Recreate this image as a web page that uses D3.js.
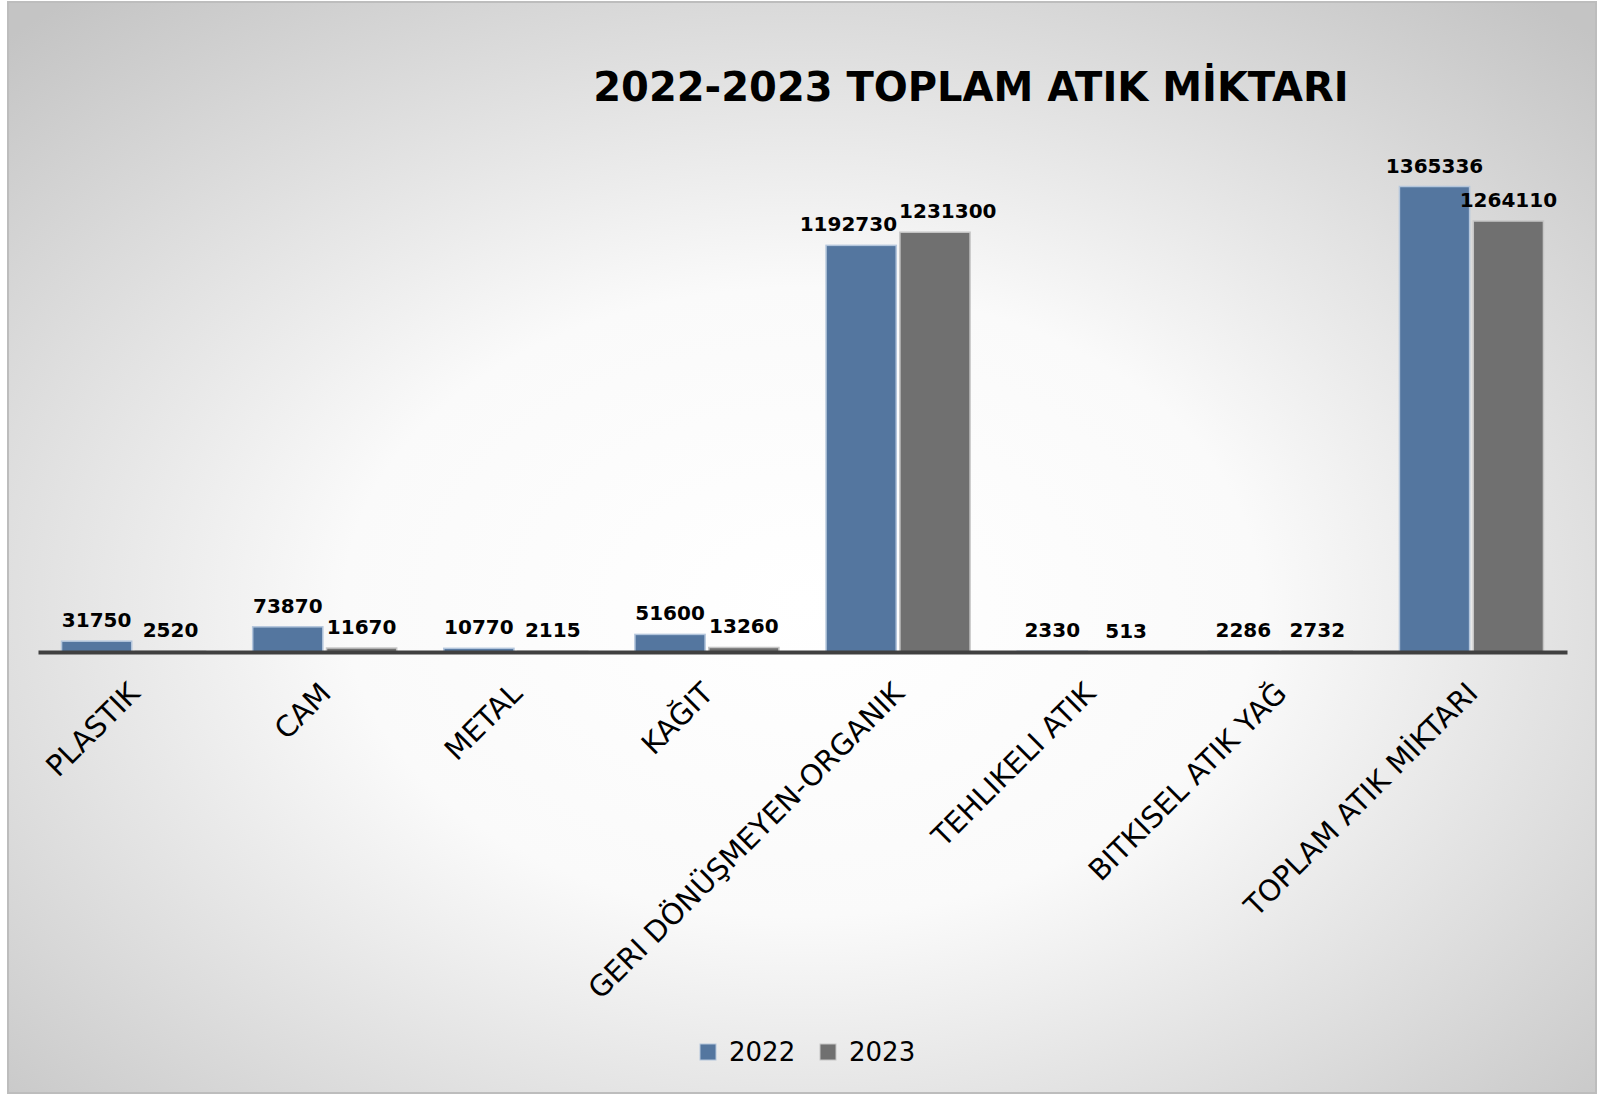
<!DOCTYPE html>
<html>
<head>
<meta charset="utf-8">
<script src="https://cdn.jsdelivr.net/npm/d3@7"></script>
<style>
  body { margin: 0; background: #fff; }
  svg { display: block; font-family: "DejaVu Sans", Verdana, sans-serif; }
</style>
</head>
<body>
<div id="chart"></div>
<script>
const categories = [
  "PLASTIK",
  "CAM",
  "METAL",
  "KAĞIT",
  "GERI DÖNÜŞMEYEN-ORGANIK",
  "TEHLIKELI ATIK",
  "BITKISEL ATIK YAĞ",
  "TOPLAM ATIK MİKTARI",
];
const years = ["2022", "2023"];
const values2022 = [31750, 73870, 10770, 51600, 1192730, 2330, 2286, 1365336];
const values2023 = [2520, 11670, 2115, 13260, 1231300, 513, 2732, 1264110];
const colors = { "2022": "#54769f", "2023": "#707070" };
const strokes = { "2022": "#b4c6dc", "2023": "#c6c6c6" };

const width = 1611;
const height = 1095;

const svg = d3
  .select("#chart")
  .append("svg")
  .attr("width", width)
  .attr("height", height);

// Radial background like the Excel chart area
const grad = svg
  .append("defs")
  .append("radialGradient")
  .attr("id", "bg")
  .attr("cx", "50%")
  .attr("cy", "55%")
  .attr("r", "72%");
grad.append("stop").attr("offset", "0%").attr("stop-color", "#ffffff");
grad.append("stop").attr("offset", "40%").attr("stop-color", "#fafafa");
grad.append("stop").attr("offset", "100%").attr("stop-color", "#c4c4c4");

svg
  .append("rect")
  .attr("x", 8)
  .attr("y", 2)
  .attr("width", 1588)
  .attr("height", 1091)
  .attr("fill", "url(#bg)")
  .attr("stroke", "#bdbdbd")
  .attr("stroke-width", 2);

// Title
svg
  .append("text")
  .attr("x", 971)
  .attr("y", 101)
  .attr("text-anchor", "middle")
  .attr("font-size", "40px")
  .attr("font-weight", "bold")
  .attr("fill", "#000")
  .text("2022-2023 TOPLAM ATIK MİKTARI");

const plot = { left: 38, right: 1567, top: 106.5, bottom: 652 };

const x0 = d3
  .scaleBand()
  .domain(categories)
  .range([plot.left, plot.right])
  .paddingInner(0.2465)
  .paddingOuter(0.2465 / 2);

const x1 = d3
  .scaleBand()
  .domain(years)
  .range([0, x0.bandwidth()])
  .paddingInner(0.05);

const y = d3
  .scaleLinear()
  .domain([0, 1600000])
  .range([plot.bottom, plot.top]);

const rows = categories.map((c, i) => ({
  cat: c,
  items: [
    { year: "2022", value: values2022[i] },
    { year: "2023", value: values2023[i] },
  ],
}));

const groups = svg
  .append("g")
  .selectAll("g")
  .data(rows)
  .join("g")
  .attr("transform", (d) => `translate(${x0(d.cat)},0)`);

groups
  .selectAll("rect")
  .data((d) => d.items)
  .join("rect")
  .attr("x", (d) => x1(d.year))
  .attr("y", (d) => y(d.value))
  .attr("width", x1.bandwidth())
  .attr("height", (d) => plot.bottom - y(d.value))
  .attr("fill", (d) => colors[d.year])
  .attr("stroke", (d) => strokes[d.year])
  .attr("stroke-width", 1.5);

groups
  .selectAll("text")
  .data((d) => d.items)
  .join("text")
  .attr("x", (d) => x1(d.year) + x1.bandwidth() / 2)
  .attr("y", (d) => y(d.value) - 14)
  .attr("text-anchor", "middle")
  .attr("font-size", "20px")
  .attr("font-weight", "bold")
  .attr("fill", "#000")
  .text((d) => d.value);

// Nudge the two labels of a group apart when they collide
groups.each(function () {
  const labels = d3.select(this).selectAll("text").nodes();
  const a = labels[0].getBBox();
  const b = labels[1].getBBox();
  const overlapX = a.x + a.width > b.x;
  const overlapY = a.y < b.y + b.height && b.y < a.y + a.height;
  if (overlapX && overlapY) {
    const shift = a.x + a.width - b.x + 2;
    d3.select(labels[0]).attr("x", +labels[0].getAttribute("x") - shift / 2);
    d3.select(labels[1]).attr("x", +labels[1].getAttribute("x") + shift / 2);
  }
});

// Category axis
const xAxis = svg
  .append("g")
  .attr("transform", `translate(0,${plot.bottom})`)
  .call(d3.axisBottom(x0).tickSize(0).tickSizeOuter(0));

xAxis
  .select(".domain")
  .attr("stroke", "#404040")
  .attr("stroke-width", 4);

xAxis
  .selectAll(".tick text")
  .attr("font-family", '"DejaVu Sans", Verdana, sans-serif')
  .attr("font-size", "29px")
  .attr("fill", "#000")
  .attr("text-anchor", "end")
  .attr("x", null)
  .attr("y", null)
  .attr("dy", null)
  .attr("transform", "translate(8,43) rotate(-45)");

// Legend
const legend = svg
  .append("g")
  .selectAll("g")
  .data(years)
  .join("g")
  .attr("transform", (d, i) => `translate(${700 + i * 120},0)`);

legend
  .append("rect")
  .attr("x", 0)
  .attr("y", 1044)
  .attr("width", 16)
  .attr("height", 16)
  .attr("fill", (d) => colors[d])
  .attr("stroke", (d) => strokes[d])
  .attr("stroke-width", 1);

legend
  .append("text")
  .attr("x", 29)
  .attr("y", 1061)
  .attr("font-size", "26px")
  .attr("fill", "#000")
  .text((d) => d);
</script>
</body>
</html>
